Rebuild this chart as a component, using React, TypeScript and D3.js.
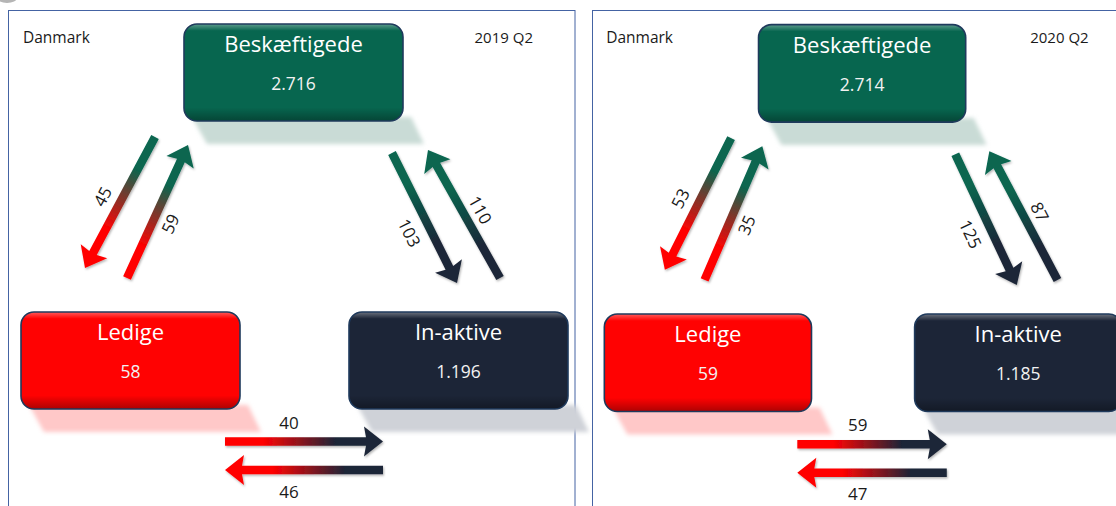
import React from "react";
import * as d3 from "d3";

// ---------- data ----------
const periods = ["2019 Q2", "2020 Q2"];
const region = "Danmark";
const states = ["Beskæftigede", "Ledige", "In-aktive"];
const stocks2019 = [2716, 58, 1196];
const stocks2020 = [2714, 59, 1185];
const flowFrom = ["Beskæftigede", "Ledige", "Beskæftigede", "In-aktive", "Ledige", "In-aktive"];
const flowTo = ["Ledige", "Beskæftigede", "In-aktive", "Beskæftigede", "In-aktive", "Ledige"];
const flows2019 = [45, 59, 103, 110, 40, 46];
const flows2020 = [53, 35, 125, 87, 59, 47];

// ---------- layout / style ----------
const W = 1116;
const H = 506;
const FONT = "'Open Sans', 'Noto Sans', sans-serif";
const stateColor: Record<string, string> = {
  "Beskæftigede": "#07664f",
  "Ledige": "#ff0202",
  "In-aktive": "#1c2537",
};
const shadowColor: Record<string, string> = {
  "Beskæftigede": "#c9dbd6",
  "Ledige": "#ffc8c8",
  "In-aktive": "#cfd2d8",
};
const BOX_W = 219;
const BOX_H = 97;
const boxLayout: Record<string, { x: number; y: number }> = {
  "Beskæftigede": { x: 184, y: 24 },
  "Ledige": { x: 21, y: 312 },
  "In-aktive": { x: 349, y: 312 },
};
// arrow geometry in the left panel's coordinate frame
const arrowLayout = [
  { tail: [155, 137], tip: [85, 268], t: 0.52, off: 18.5 },
  { tail: [127, 278], tip: [188, 145], t: 0.46, off: 16.5 },
  { tail: [392, 153], tip: [457, 283], t: 0.545, off: 20 },
  { tail: [500, 278], tip: [428, 150], t: 0.47, off: 16.5 },
  { tail: [225, 441.5], tip: [383, 441.5], t: 0.405, off: -19.5 },
  { tail: [383, 470], tip: [225, 470], t: 0.595, off: -21 },
];
const panelLayout = [
  { x0: 8.5, x1: 575, rx0: 8.5, rx1: 575, ry0: 0, ry1: 500 },
  { x0: 8.5, x1: 575, rx0: 592.5, rx1: 592.5 + 566.5 * 0.946, ry0: 0.5, ry1: 503 },
];

const fmt = d3
  .formatLocale({ decimal: ",", thousands: ".", grouping: [3], currency: ["", ""] })
  .format(",d");

const SW = 8.5; // shaft width
const HW = 15; // head half width
const HL = 17; // head length

function arrowPath(L: number) {
  const b = L - HL;
  return `M0,${-SW / 2} L${b},${-SW / 2} L${b - 2},${-HW} L${L},0 L${b - 2},${HW} L${b},${SW / 2} L0,${SW / 2} Z`;
}

function Panel({ idx, period, stocks, flows }: { idx: number; period: string; stocks: number[]; flows: number[] }) {
  const pl = panelLayout[idx];
  const xs = d3.scaleLinear().domain([pl.x0, pl.x1]).range([pl.rx0, pl.rx1]);
  const ys = d3.scaleLinear().domain([0, 500]).range([pl.ry0, pl.ry1]);

  const boxes = states.map((s, i) => {
    const b = boxLayout[s];
    const x = xs(b.x);
    const y = ys(b.y);
    const w = xs(b.x + BOX_W) - x;
    const h = ys(b.y + BOX_H) - y;
    return { s, x, y, w, h, v: stocks[i] };
  });

  const arrows = flows.map((f, j) => {
    const a = arrowLayout[j];
    const tx = xs(a.tail[0]);
    const ty = ys(a.tail[1]);
    const px = xs(a.tip[0]);
    const py = ys(a.tip[1]);
    const dx = px - tx;
    const dy = py - ty;
    const L = Math.hypot(dx, dy);
    const ang = (Math.atan2(dy, dx) * 180) / Math.PI;
    const ux = dx / L;
    const uy = dy / L;
    const nx = -uy;
    const ny = ux;
    const lx = tx + ux * L * a.t + nx * a.off;
    const ly = ty + uy * L * a.t + ny * a.off;
    let la = ang;
    if (la > 90) la -= 180;
    if (la <= -90) la += 180;
    return { j, f, tx, ty, L, ang, lx, ly, la, from: flowFrom[j], to: flowTo[j] };
  });

  return (
    <g>
      <defs>
        {arrows.map((a) => (
          <linearGradient
            key={a.j}
            id={`ag-${idx}-${a.j}`}
            gradientUnits="userSpaceOnUse"
            x1={0}
            y1={0}
            x2={a.L}
            y2={0}
          >
            <stop offset={0.24} stopColor={stateColor[a.from]} />
            <stop offset={0.7} stopColor={stateColor[a.to]} />
          </linearGradient>
        ))}
      </defs>
      <rect
        x={xs(pl.x0)}
        y={10.5}
        width={xs(pl.x1) - xs(pl.x0)}
        height={600}
        fill="none"
        stroke="#4463a3"
        strokeWidth={1}
      />
      <text x={xs(23)} y={ys(42.5)} fontSize={15.5} fill="#1a1a1a" fontFamily={FONT}>
        {region}
      </text>
      <text x={xs(533)} y={ys(42.5)} fontSize={15} fill="#1a1a1a" fontFamily={FONT} textAnchor="end">
        {period}
      </text>
      {boxes.map((b) => (
        <path
          key={"sh" + b.s}
          d={`M${b.x + 8},${b.y + b.h - 4} L${b.x + b.w + 8},${b.y + b.h - 4} L${b.x + b.w + 21},${b.y + b.h + 23} L${b.x + 23},${b.y + b.h + 23} Z`}
          fill={shadowColor[b.s]}
          filter="url(#softblur)"
        />
      ))}
      {boxes.map((b) => (
        <g key={"bx" + b.s}>
          <rect x={b.x} y={b.y} width={b.w} height={b.h} rx={13} fill={stateColor[b.s]} />
          <rect x={b.x} y={b.y} width={b.w} height={b.h} rx={13} fill="url(#bevel)" />
          <rect
            x={b.x}
            y={b.y}
            width={b.w}
            height={b.h}
            rx={13}
            fill="none"
            stroke="#1f3a5c"
            strokeWidth={1.6}
          />
          <text
            x={b.x + b.w / 2}
            y={b.y + 28}
            textAnchor="middle"
            fontSize={22}
            fill="#ffffff"
            fontFamily={FONT}
          >
            {b.s}
          </text>
          <text
            x={b.x + b.w / 2}
            y={b.y + 66}
            textAnchor="middle"
            fontSize={17.5}
            fill="#f2f2f2"
            fontFamily={FONT}
          >
            {fmt(b.v)}
          </text>
        </g>
      ))}
      {arrows.map((a) => (
        <g key={"ar" + a.j} filter="url(#arrowshadow)">
          <g transform={`translate(${a.tx},${a.ty}) rotate(${a.ang})`}>
            <path d={arrowPath(a.L)} fill={`url(#ag-${idx}-${a.j})`} />
          </g>
        </g>
      ))}
      {arrows.map((a) => (
        <text
          key={"lb" + a.j}
          transform={`translate(${a.lx},${a.ly}) rotate(${a.la})`}
          textAnchor="middle"
          dominantBaseline="central"
          fontSize={17}
          fill="#1a1a1a"
          fontFamily={FONT}
        >
          {a.f}
        </text>
      ))}
    </g>
  );
}

export default function App() {
  const panels = [
    { period: periods[0], stocks: stocks2019, flows: flows2019 },
    { period: periods[1], stocks: stocks2020, flows: flows2020 },
  ];
  return (
    <svg
      width={W}
      height={H}
      viewBox={`0 0 ${W} ${H}`}
      style={{ position: "absolute", left: 0, top: 0, display: "block" }}
    >
      <defs>
        <linearGradient id="bevel" x1="0" y1="0" x2="0" y2="1">
          <stop offset={0} stopColor="#ffffff" stopOpacity={0.35} />
          <stop offset={0.07} stopColor="#ffffff" stopOpacity={0} />
          <stop offset={0.86} stopColor="#000000" stopOpacity={0} />
          <stop offset={1} stopColor="#000000" stopOpacity={0.32} />
        </linearGradient>
        <filter id="softblur" x="-10%" y="-40%" width="120%" height="180%">
          <feGaussianBlur stdDeviation={2.2} />
        </filter>
        <filter id="arrowshadow" x="-30%" y="-30%" width="160%" height="160%">
          <feDropShadow dx={1} dy={1.5} stdDeviation={1.2} floodColor="#000" floodOpacity={0.3} />
        </filter>
      </defs>
      <rect width={W} height={H} fill="#ffffff" />
      <ellipse cx={7} cy={-2} rx={10} ry={5} fill="#b5b5b5" />
      {panels.map((p, i) => (
        <Panel key={i} idx={i} period={p.period} stocks={p.stocks} flows={p.flows} />
      ))}
    </svg>
  );
}
